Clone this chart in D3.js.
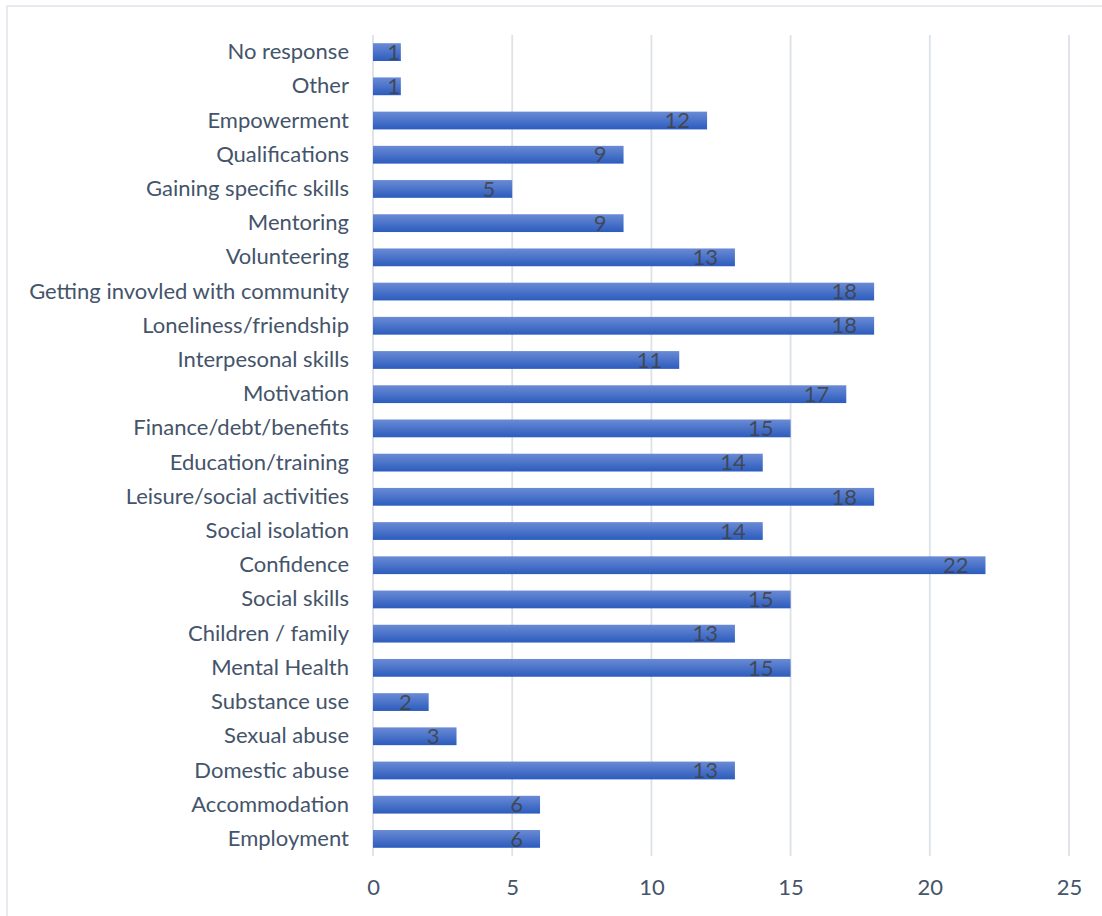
<!DOCTYPE html>
<html>
<head>
<meta charset="utf-8">
<script src="https://cdn.jsdelivr.net/npm/d3@7"></script>
<style>
  body { margin: 0; background: #fff; }
  text { font-family: Lato, "Open Sans", sans-serif; }
</style>
</head>
<body>
<script>
// Categories, top to bottom as shown
const categories = [
  "No response", "Other", "Empowerment", "Qualifications", "Gaining specific skills",
  "Mentoring", "Volunteering", "Getting invovled with community", "Loneliness/friendship",
  "Interpesonal skills", "Motivation", "Finance/debt/benefits", "Education/training",
  "Leisure/social activities", "Social isolation", "Confidence", "Social skills",
  "Children / family", "Mental Health", "Substance use", "Sexual abuse",
  "Domestic abuse", "Accommodation", "Employment"
];
const values = [1, 1, 12, 9, 5, 9, 13, 18, 18, 11, 17, 15, 14, 18, 14, 22, 15, 13, 15, 2, 3, 13, 6, 6];
const xTicks = [0, 5, 10, 15, 20, 25];

const W = 1102, H = 916;
const margin = { top: 35, right: 33, bottom: 60, left: 373 };
const width = W - margin.left - margin.right;
const height = H - margin.top - margin.bottom;
const fontSize = "22px";

const svg = d3.select("body").append("svg")
  .attr("width", W)
  .attr("height", H);

// chart border
svg.append("rect")
  .attr("x", 7).attr("y", 6)
  .attr("width", W + 10).attr("height", H + 10)
  .attr("fill", "none")
  .attr("stroke", "#dfe3ea")
  .attr("stroke-width", 1.5);

const defs = svg.append("defs");
const grad = defs.append("linearGradient")
  .attr("id", "barGrad")
  .attr("x1", 0).attr("y1", 0).attr("x2", 0).attr("y2", 1);
grad.append("stop").attr("offset", "0%").attr("stop-color", "#6a8bd5");
grad.append("stop").attr("offset", "100%").attr("stop-color", "#2c5cbd");

const g = svg.append("g")
  .attr("transform", `translate(${margin.left},${margin.top})`);

const x = d3.scaleLinear().domain([0, 25]).range([0, width]);
const y = d3.scaleBand().domain(categories).range([0, height]).paddingInner(0.48).paddingOuter(0.24);

// gridlines
g.selectAll(".grid")
  .data(xTicks)
  .enter().append("line")
  .attr("x1", d => x(d)).attr("x2", d => x(d))
  .attr("y1", 0).attr("y2", height)
  .attr("stroke", "#dde1e8")
  .attr("stroke-width", 1.8);

// x axis labels
const xAxis = g.append("g")
  .attr("transform", `translate(0,${height})`)
  .call(d3.axisBottom(x).tickValues(xTicks).tickSize(0).tickPadding(23));
xAxis.select(".domain").remove();
xAxis.selectAll("text")
  .attr("fill", "#44546a")
  .style("font-size", fontSize)
  .style("font-family", "Lato, 'Open Sans', sans-serif");

// y axis labels
const yAxis = g.append("g")
  .call(d3.axisLeft(y).tickSize(0).tickPadding(24));
yAxis.select(".domain").remove();
yAxis.selectAll("text")
  .attr("fill", "#44546a")
  .style("font-size", fontSize)
  .style("font-family", "Lato, 'Open Sans', sans-serif");

const rows = categories.map((c, i) => ({ c, v: values[i] }));

// bars
g.selectAll(".bar")
  .data(rows)
  .enter().append("rect")
  .attr("class", "bar")
  .attr("x", x(0))
  .attr("y", d => y(d.c))
  .attr("width", d => x(d.v) - x(0))
  .attr("height", y.bandwidth())
  .attr("fill", "url(#barGrad)");

// data labels, inside end
g.selectAll(".lbl")
  .data(rows)
  .enter().append("text")
  .attr("class", "lbl")
  .attr("x", d => Math.max(x(d.v) - 17, x(0) + 27))
  .attr("y", d => y(d.c) + y.bandwidth() / 2)
  .attr("dy", "0.35em")
  .attr("text-anchor", "end")
  .attr("fill", "#404040")
  .attr("fill-opacity", 0.85)
  .style("font-size", fontSize)
  .text(d => d.v);
</script>
</body>
</html>
